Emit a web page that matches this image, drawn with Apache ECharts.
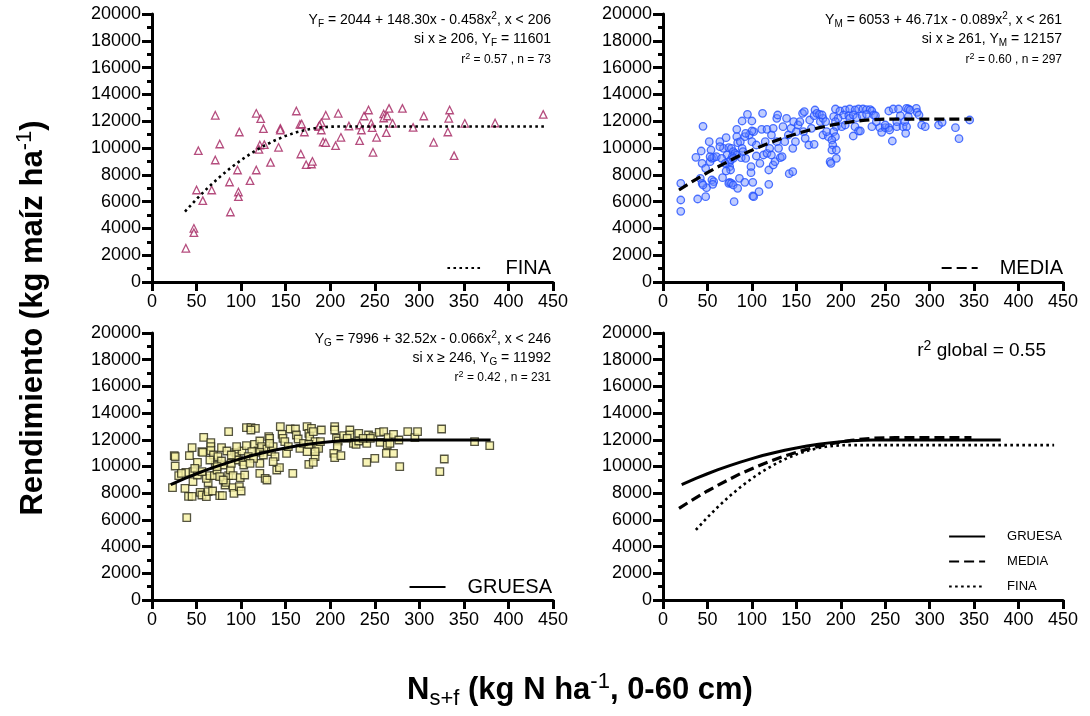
<!DOCTYPE html>
<html>
<head>
<meta charset="utf-8">
<script src="https://cdn.jsdelivr.net/npm/echarts@6/dist/echarts.min.js"></script>
<style>html,body{margin:0;padding:0;background:#fff}#c{width:1090px;height:716px}</style>
</head>
<body>
<div id="c"></div>
<script>
// ---------- DATA ----------
const finaPts = [[38,2515],[47,4005],[47,3680],[50,6866],[57,6070],[52,9800],[71,12440],[71,9104],[67,6866],[76,10300],[88,5224],[87,7463],[96,8358],[97,6716],[97,6368],[98,11194],[110,7562],[117,8358],[117,12587],[122,12189],[121,10224],[120,9900],[125,11443],[126,10250],[133,8930],[144,11468],[144,11343],[142,10050],[162,12761],[166,11766],[168,11790],[171,11194],[167,9552],[173,8756],[179,8806],[180,9005],[187,11592],[190,11343],[190,11890],[195,12440],[192,10448],[195,10398],[209,12587],[206,10174],[212,10796],[221,11642],[233,10547],[233,11716],[235,11343],[238,12388],[243,12836],[246,11841],[247,11517],[252,10796],[248,9677],[260,12540],[260,12239],[264,12388],[263,11144],[266,12960],[270,11841],[281,12960],[293,11542],[305,12388],[316,10423],[333,12214],[334,12836],[332,11194],[339,9428],[351,11841],[385,11866],[439,12512],[188,11690]];

const mediaPts = [[20,7363],[20,6119],[20,5273],[45,11617],[37,9303],[43,9776],[44,8855],[39,6194],[48,6368],[49,7040],[42,7736],[44,7363],[45,7239],[48,8483],[52,10472],[54,9851],[53,8980],[55,9229],[57,9278],[60,9353],[55,7612],[57,7487],[56,7288],[67,7786],[64,10472],[68,9975],[71,10771],[72,9477],[74,10025],[75,8607],[76,8358],[75,7438],[74,7363],[77,7363],[79,7239],[80,5995],[84,6990],[86,7736],[89,12015],[95,12512],[83,11393],[83,10846],[84,10398],[87,10472],[89,9975],[88,9278],[90,9726],[77,9975],[79,9726],[81,9602],[83,9478],[75,8980],[76,9104],[78,9353],[79,9229],[93,9229],[92,7438],[99,8607],[99,8159],[101,7438],[101,6418],[102,6368],[108,6741],[97,10970],[102,11219],[100,10472],[105,10224],[105,9403],[109,8855],[112,12587],[111,11393],[115,10472],[117,11393],[119,8358],[119,7288],[113,9478],[117,9602],[120,9975],[122,10970],[122,9478],[124,8731],[126,8980],[124,11468],[128,12214],[129,12463],[128,10472],[130,9975],[132,9278],[134,9353],[135,11592],[137,10472],[139,12214],[141,10970],[142,8085],[146,8234],[144,11468],[146,9975],[147,11965],[149,10472],[150,11219],[152,11716],[154,11965],[157,12587],[159,12711],[158,11219],[160,10721],[164,10224],[165,12090],[167,11468],[170,10274],[170,12413],[171,12836],[173,12587],[177,11965],[176,12512],[180,12214],[180,10970],[183,11965],[186,10846],[188,8980],[184,11219],[179,12463],[100,12015],[100,11269],[92,10846],[93,11095],[64,10099],[66,9229],[70,8855],[71,8283],[53,9353],
[194,12910],[199,12761],[205,12836],[210,12910],[216,12836],[220,12910],[225,12910],[229,12860],[233,12860],[235,12761],[203,12463],[209,12413],[210,12214],[214,12463],[218,12264],[224,12413],[229,12512],[237,12463],[192,12338],[197,12214],[194,11965],[195,11592],[192,11219],[194,10846],[190,10597],[191,10224],[190,9851],[195,9851],[195,9229],[189,8856],[201,11592],[205,11716],[216,11592],[220,11269],[214,10896],[222,11269],[235,11592],[244,11517],[246,11169],[250,11517],[254,12761],[254,11517],[255,11343],[259,12910],[265,12910],[258,10522],[263,11592],[267,12413],[270,11592],[274,12960],[276,12910],[278,12836],[272,11965],[274,11592],[273,11095],[276,12338],[285,12960],[286,12662],[288,12463],[291,11716],[295,11592],[310,11716],[314,11915],[329,11517],[333,10696],[345,12090],[263,11965],[250,11716],[240,11965],[239,12413]];

const gruesaPts = [[23,8414],[25,10812],[26,10737],[26,10038],[30,9313],[38,9563],[39,6167],[37,8364],[42,10812],[45,11411],[46,9613],[46,8864],[41,7765],[45,7765],[51,10312],[51,9363],[56,11111],[58,12185],[57,11061],[54,8065],[56,7865],[61,7740],[63,8115],[63,8789],[61,9113],[65,9313],[66,11785],[66,11486],[66,11186],[68,8165],[69,10862],[70,9313],[71,10113],[73,9738],[74,10737],[76,7815],[78,11411],[79,7815],[80,10113],[82,8614],[83,8814],[84,11161],[86,12609],[86,9313],[88,9738],[89,10238],[91,9313],[91,8414],[92,7990],[94,11061],[95,10737],[97,10487],[99,9164],[98,8489],[100,8165],[101,11161],[102,10362],[103,10113],[104,9363],[106,11561],[106,12909],[111,12909],[116,12859],[111,12734],[115,11660],[119,11161],[121,11910],[121,10238],[121,9488],[123,11486],[127,9113],[129,8989],[131,12235],[132,12110],[129,11311],[134,11111],[136,11486],[138,10737],[140,9738],[143,9913],[144,12984],[146,12410],[147,12110],[149,11860],[151,10987],[153,11486],[155,12809],[158,9488],[161,12809],[162,12360],[164,12060],[166,11361],[170,11735],[174,12984],[176,12485],[177,12235],[179,12859],[181,12609],[183,11860],[185,11486],[187,11361],[189,11860],[190,12734],[183,10737],[176,10163],[181,10312],[183,11111],[174,11111],[176,11660],[132,11735],[136,10362],[121,11061],[125,10862],[112,11111],[108,10737],[114,10612],[110,10238],[95,11486],[89,10862],[78,10412],[73,9988],[76,9238],[80,8989],[65,10487],[56,9613],[48,9863],[33,9488],
[205,12984],[205,12734],[207,12110],[209,11910],[208,11486],[204,10987],[205,10662],[212,10812],[215,12310],[222,12734],[222,12360],[226,11735],[229,11660],[232,12485],[232,11910],[241,11735],[241,10312],[243,12360],[248,12235],[250,10612],[255,12560],[256,11810],[260,12609],[264,11611],[265,12160],[263,10987],[267,11735],[271,12410],[271,10987],[277,11985],[278,9988],[287,12609],[295,12160],[298,12609],[325,12809],[328,10562],[323,9613],[362,11860],[379,11561],[219,12110],[237,12110],[245,12110]];

const finaCurve = [[37,5250],[50,6189],[62,6989],[75,7784],[87,8452],[100,9102],[112,9636],[125,10142],[137,10542],[150,10904],[162,11170],[175,11387],[187,11521],[200,11593],[206,11601],[440,11601]];
const mediaCurve = [[18,6865],[30,7374],[50,8166],[62,8600],[75,9055],[87,9460],[100,9834],[112,10170],[125,10501],[137,10790],[150,11057],[162,11290],[175,11501],[187,11680],[200,11835],[212,11955],[225,12057],[237,12120],[250,12150],[261,12157],[347,12157]];
const gruesaCurve = [[21,8650],[37,9110],[50,9457],[62,9760],[75,10064],[87,10330],[100,10588],[112,10820],[125,11030],[137,11220],[150,11389],[162,11530],[175,11666],[187,11770],[200,11860],[212,11930],[225,11972],[236,11988],[246,11992],[380,11992]];

const seriesNames = ['FINA', 'MEDIA', 'GRUESA'];

// ---------- CHART ----------
const FONT = "'Liberation Sans', Arial, Helvetica, sans-serif";
const grids = [
  {left:152, top:14, width:401, height:268},
  {left:663, top:14, width:400, height:268},
  {left:152, top:333, width:401, height:267},
  {left:663, top:333, width:400, height:267}
];
function makeX(i){
  return {gridIndex:i, type:'value', min:0, max:450, interval:50,
    axisLine:{onZero:false, lineStyle:{color:'#000', width:3}},
    axisTick:{length:9, lineStyle:{color:'#000', width:3}},
    axisLabel:{color:'#000', fontSize:18, fontFamily:FONT, margin:11},
    splitLine:{show:false}};
}
function makeY(i){
  return {gridIndex:i, type:'value', min:0, max:20000, interval:2000,
    axisLine:{show:true, onZero:false, lineStyle:{color:'#000', width:3}},
    axisTick:{show:true, length:10, lineStyle:{color:'#000', width:3}},
    minorTick:{show:true, splitNumber:2, length:5, lineStyle:{color:'#000', width:3}},
    axisLabel:{color:'#000', fontSize:18, fontFamily:FONT, margin:11, formatter:(v)=>String(v)},
    splitLine:{show:false}};
}
const lineStyles = {
  FINA:{color:'#000', width:2.6, type:[2.6,3.4]},
  MEDIA:{color:'#000', width:3.2, type:[10,5]},
  GRUESA:{color:'#000', width:3, type:'solid'}
};
function curve(name, data, gi){
  return {name, type:'line', xAxisIndex:gi, yAxisIndex:gi, data, showSymbol:false, symbol:'none',
    itemStyle:{color:'#000'}, lineStyle:lineStyles[name], z:5, silent:true, animation:false};
}
function scatter(name, data, gi, symbol, style){
  return {name, type:'scatter', xAxisIndex:gi, yAxisIndex:gi, data, symbol, symbolSize:7.5,
    itemStyle:style, z:3, animation:false};
}
function rich(size){
  return {
    sub:{fontSize:Math.round(size*0.72), fontFamily:FONT, fill:'#000', color:'#000', lineHeight:Math.round(size*0.75), verticalAlign:'bottom'},
    sup:{fontSize:Math.round(size*0.72), fontFamily:FONT, fill:'#000', color:'#000', lineHeight:Math.round(size*0.75), verticalAlign:'top'}
  };
}
function txt(text, x, y, size, opts){
  opts = opts || {};
  return {type:'text', x, y, rotation:opts.rotation||0, silent:true,
    style:{text, fontSize:size, fontFamily:FONT, fontWeight:opts.bold?'bold':'normal', fill:'#000',
      align:opts.align||'right', verticalAlign:'middle', lineHeight:Math.round(size*1.25), rich:rich(size)}};
}
const legendBase = {itemWidth:36, itemHeight:14, selectedMode:false, padding:0,
  itemStyle:{color:'rgba(0,0,0,0)', borderWidth:0, opacity:0},
  textStyle:{color:'#000', fontSize:20, fontFamily:FONT, padding:[0,0,0,17]}};

const option = {
  animation:false,
  backgroundColor:'#fff',
  grid:grids,
  xAxis:[makeX(0), makeX(1), makeX(2), makeX(3)],
  yAxis:[makeY(0), makeY(1), makeY(2), makeY(3)],
  legend:[
    Object.assign({}, legendBase, {data:[seriesNames[0]], right:539, top:258}),
    Object.assign({}, legendBase, {data:[seriesNames[1]], right:27, top:258}),
    Object.assign({}, legendBase, {data:[seriesNames[2]], right:538, top:577}),
    Object.assign({}, legendBase, {data:[seriesNames[2], seriesNames[1], seriesNames[0]], orient:'vertical', right:28, top:529, itemGap:10,
      textStyle:{color:'#000', fontSize:13, fontFamily:FONT, lineHeight:15, padding:[0,0,0,17]}})
  ],
  series:[
    scatter('FINA datos', finaPts, 0, 'triangle', {color:'#fff', borderColor:'#a3205e', borderWidth:1.3}),
    curve('FINA', finaCurve, 0),
    scatter('MEDIA datos', mediaPts, 1, 'circle', {color:'rgba(110,140,255,0.55)', borderColor:'#2451ff', borderWidth:1.3}),
    curve('MEDIA', mediaCurve, 1),
    scatter('GRUESA datos', gruesaPts, 2, 'rect', {color:'#f6f1a4', borderColor:'#2a2a18', borderWidth:1.3}),
    curve('GRUESA', gruesaCurve, 2),
    curve('GRUESA', gruesaCurve, 3),
    curve('MEDIA', mediaCurve, 3),
    curve('FINA', finaCurve, 3)
  ],
  graphic:[
    txt('Y{sub|F} = 2044 + 148.30x - 0.458x{sup|2}, x < 206', 551, 20, 14),
    txt('si x ≥ 206, Y{sub|F} = 11601', 551, 39, 14),
    txt('r{sup|2} = 0.57 , n = 73', 551, 60, 12),
    txt('Y{sub|M} = 6053 + 46.71x - 0.089x{sup|2}, x < 261', 1062, 20, 14),
    txt('si x ≥ 261, Y{sub|M} = 12157', 1062, 39, 14),
    txt('r{sup|2} = 0.60 , n = 297', 1062, 60, 12),
    txt('Y{sub|G} = 7996 + 32.52x - 0.066x{sup|2}, x < 246', 551, 339, 14),
    txt('si x ≥ 246, Y{sub|G} = 11992', 551, 358, 14),
    txt('r{sup|2} = 0.42 , n = 231', 551, 378, 12),
    txt('r{sup|2} global = 0.55', 1046, 351, 19),
    txt('Rendimiento (kg maíz ha{sup|-1})', 33, 318, 31, {bold:true, align:'center', rotation:Math.PI/2}),
    txt('N{sub|s+f} (kg N ha{sup|-1}, 0-60 cm)', 580, 690, 31, {bold:true, align:'center'})
  ]
};
const chart = echarts.init(document.getElementById('c'), null, {renderer:'canvas'});
chart.setOption(option);
</script>
</body>
</html>
